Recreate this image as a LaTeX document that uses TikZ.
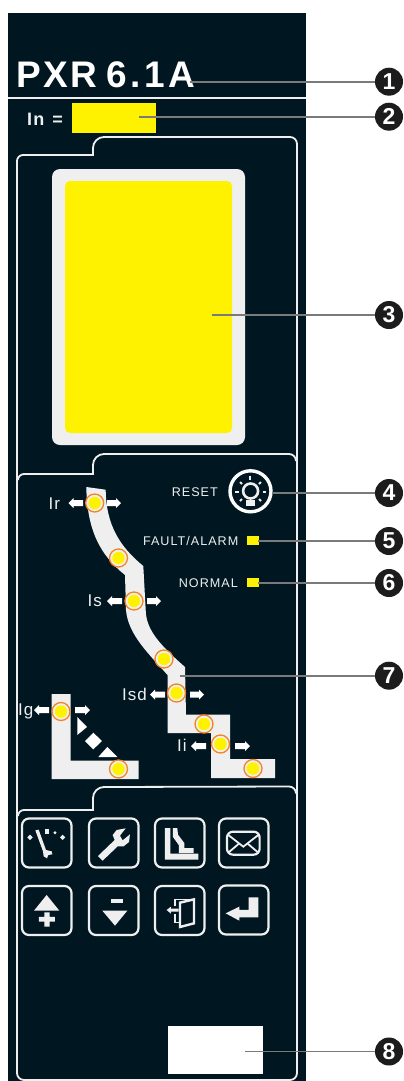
\documentclass[tikz,border=0pt]{standalone}
\usepackage{fontspec}
\setmainfont{Liberation Sans}
\newfontfamily\lblfont[LetterSpace=8]{Liberation Sans}
\newfontfamily\bigfont[LetterSpace=6]{Liberation Sans}
\newfontfamily\ttlfont[LetterSpace=6]{Liberation Sans}
\newfontfamily\ttlfontb[LetterSpace=9.5]{Liberation Sans}
\definecolor{panel}{HTML}{001722}
\definecolor{soft}{HTML}{EFEFEF}
\definecolor{ylw}{HTML}{FFF200}
\definecolor{orng}{HTML}{F58220}
\definecolor{leader}{HTML}{7A7A7A}
\definecolor{dark}{HTML}{1C1C1C}
\tikzset{
  frameline/.style={draw=soft,line width=1.8pt},
  iconbox/.style={draw=soft,line width=2.2pt,rounded corners=7pt},
  iconfill/.style={fill=soft,draw=none},
  iconline/.style={draw=soft,line width=1.8pt},
  lbl/.style={inner sep=0pt,text=soft,anchor=base west,font=\bigfont\fontsize{17}{18}\selectfont},
  sml/.style={inner sep=0pt,text=soft,anchor=base east,font=\lblfont\fontsize{12.6}{14}\selectfont},
  callout/.style={circle,fill=dark,text=white,inner sep=0pt,minimum size=28pt,font=\fontsize{23}{24}\selectfont\bfseries},
  leaderline/.style={draw=leader,line width=1.6pt},
  outerdot/.style={circle,draw=orng,line width=1.3pt,fill=soft,minimum size=18pt,inner sep=0pt},
  innerdot/.style={circle,fill=ylw,minimum size=12.5pt,inner sep=0pt},
}
\newcommand{\arrR}[3]{\fill[white] (#1,#3-3) -- (#2-5,#3-3) -- (#2-5,#3-5) -- (#2,#3) -- (#2-5,#3+5) -- (#2-5,#3+3) -- (#1,#3+3) -- cycle;}
\newcommand{\arrL}[3]{\fill[white] (#2,#3-3) -- (#1+5,#3-3) -- (#1+5,#3-5) -- (#1,#3) -- (#1+5,#3+5) -- (#1+5,#3+3) -- (#2,#3+3) -- cycle;}
\begin{document}
\begin{tikzpicture}[x=1pt,y=-1pt]
\useasboundingbox (0,0) rectangle (404,1081);
\fill[white] (0,0) rectangle (404,1081);
\fill[panel] (8,13) rectangle (306,1081);
% header
\node[inner sep=0pt,anchor=base west,text=white,font=\ttlfont\fontsize{37}{40}\selectfont\bfseries] (title) at (16.5,87.3) {PXR\hspace{9pt}{\ttlfontb\fontsize{37}{40}\selectfont\bfseries 6.1A}};
\draw[draw=soft,line width=2pt] (8,97.5) -- (306,97.5);
\node[lbl,font=\bigfont\fontsize{18}{18}\selectfont\bfseries] (inlabel) at (27,125) {In\hspace{2pt} =};
\fill[ylw] (72,103) rectangle (156,133);
% frames
\draw[frameline] (17,161) arc[start angle=180,end angle=270,radius=6] -- (93,155) -- (93,148) arc[start angle=180,end angle=270,radius=11] -- (290,137) arc[start angle=-90,end angle=0,radius=7] -- (297,1073) arc[start angle=0,end angle=90,radius=7] -- (24,1080) arc[start angle=90,end angle=180,radius=7] -- cycle;
\draw[frameline] (18,480) arc[start angle=180,end angle=270,radius=6] -- (93,474) -- (93,465) arc[start angle=180,end angle=270,radius=11] -- (289,454) arc[start angle=-90,end angle=0,radius=7];
\draw[frameline] (18,816) arc[start angle=180,end angle=270,radius=6] -- (93,810) -- (93,798) arc[start angle=180,end angle=270,radius=11] -- (289,786.5) arc[start angle=-90,end angle=0,radius=7];
% display
\fill[soft,rounded corners=8pt] (52,169) rectangle (245,445);
\fill[ylw,rounded corners=5pt] (65,181) rectangle (232,433);
% reset
\draw[draw=white,line width=3.4pt] (250.5,491.3) circle[radius=20.5];
\draw[draw=soft,line width=2.6pt] (250.6,491) circle[radius=7.5];
\fill[soft] (245.8,499.5) rectangle (254.6,505.7);
\foreach \a/\b/\c/\d in {250.3/475.7/250.3/479.5,235/491.5/238.7/491.5,262.5/491.5/266.2/491.5,240/482/242/484,261/482/259/484,240/501/242/499,261/501/259/499}{
  \draw[draw=soft,line width=2pt] (\a,\b) -- (\c,\d);
}
\node[sml] (reset) at (218,496) {RESET};
\node[sml] (fault) at (238.5,545.3) {FAULT/ALARM};
\node[sml] (normal) at (238,587.3) {NORMAL};
\fill[ylw] (247,536) rectangle (259,545);
\fill[ylw] (247,578) rectangle (259,587);
% bands
\fill[soft] (86.3,487) .. controls (87,530) and (100,555) .. (125,575) -- (126,610) .. controls (128,635) and (150,655) .. (167.5,675) -- (167.5,733) -- (211,733) -- (211,778) -- (275,778) -- (275,759) -- (230,759) -- (230,714.7) -- (186,714.7) -- (185,667) .. controls (160,645) and (146,630) .. (145.7,610) -- (143.3,566) .. controls (120,547) and (106,525) .. (105.7,489.7) -- cycle;
\fill[soft] (51.5,694) -- (70.5,694) -- (70.5,760.5) -- (138.5,760.5) -- (138.5,779) -- (51.5,779) -- cycle;
\fill[white] (77.3,717) -- (87,727) -- (77.3,735) -- cycle;
\fill[white] (85,741) -- (93.3,732.7) -- (102,741) -- (93.3,749.3) -- cycle;
\fill[white] (98.3,757) -- (117.3,757) -- (107.3,747) -- cycle;
% markers
\foreach \n/\mx/\my in {a/94.7/503,b/118.5/558,c/134/601,d/164/659,e/176.5/693,f/204/724,g/220.5/744,h/253/768.5,k/61/711.5,m/118.5/769}{
  \node[outerdot] (out\n) at (\mx,\my) {};
  \node[innerdot] (in\n) at (\mx,\my) {};
}
% labels
\node[lbl] (ir) at (48.5,509) {Ir};
\node[lbl] (is) at (87.5,606.7) {Is};
\node[lbl] (isd) at (122,700.7) {Isd};
\node[lbl] (ii) at (177,751.7) {Ii};
\node[lbl] (ig) at (18,715) {Ig};
% small arrows
\arrL{68.5}{83}{503}\arrR{107}{121}{503}
\arrL{107}{122}{601}\arrR{147}{161}{601}
\arrL{150}{165}{694.5}\arrR{190}{204}{694.5}
\arrL{191}{206}{746}\arrR{235}{250}{746}
\arrL{34}{49}{710}\arrR{75}{90}{710}
% icon boxes
\foreach \bx/\by in {22/818.5,89/818.5,155/818.5,219/818.5,22/886,89/886,155/886,219/885.5}{
  \draw[iconbox] (\bx,\by) rectangle ++(49.5,49);
}
% icon glyphs, typed in 3x units
\begin{scope}[shift={(10,780)},x=0.3333pt,y=-0.3333pt]
  % gauge
  \fill[soft] (76,151) -- (86,149) -- (108,210) -- (125,214) -- (127,223) -- (115,225) -- (111,235) -- (101,229) -- (99,214) -- cycle;
  \fill[soft] (60,164) -- (68,172) -- (60,180) -- (52,172) -- cycle;
  \fill[soft] (158,164) -- (166,172) -- (158,180) -- (150,172) -- cycle;
  \fill[soft] (105,148) rectangle (116,163);
  \fill[soft] (135,158) circle[radius=5];
  % wrench
  \path[iconfill] (264,228) -- (314,180) -- (308,165) -- (320,150) -- (347,145) -- (330,167) -- (338,181) -- (360,163) -- (357,186) -- (341,199) -- (323,199) -- (278,242) -- cycle;
  % curve
  \path[iconfill] (465,144) -- (481,144) -- (481,221) -- (565,221) -- (565,239) -- (465,239) -- cycle;
  \path[iconfill] (489,144) -- (502,144) -- (504,164) -- (523,189) -- (523,204) -- (551,204) -- (551,219) -- (507,219) -- (507,196) -- (489,171) -- cycle;
  % envelope
  \draw[iconline,line width=2.2pt,rounded corners=6pt] (651,155) rectangle (749,224);
  \draw[iconline,line join=miter] (655,165) -- (700,200) -- (745,165);
  \draw[iconline] (655,218) -- (688,190);
  \draw[iconline] (745,218) -- (712,190);
  % up plus
  \path[iconfill] (110,345) -- (148,392) -- (72,392) -- cycle;
  \path[iconfill] (87,411) -- (103,411) -- (103,397) -- (119,397) -- (119,411) -- (135,411) -- (135,425) -- (119,425) -- (119,440) -- (103,440) -- (103,425) -- (87,425) -- cycle;
  % down minus
  \path[iconfill] (303,358) rectangle (338,368);
  \path[iconfill] (277,392) -- (352,392) -- (315,437) -- cycle;
  % door
  \draw[iconline,line width=1.4pt] (495,378) -- (495,358) -- (554,358);
  \draw[iconline,line width=1.4pt] (495,402) -- (495,428) -- (510,428);
  \draw[iconline,line width=2.4pt,line join=miter] (510,368) -- (552,358) -- (552,430) -- (510,441) -- cycle;
  \path[iconfill] (470,390) -- (483,380) -- (483,386) -- (506,386) -- (506,395) -- (483,395) -- (483,401) -- cycle;
  % enter
  \path[iconfill] (716,352) -- (745,352) -- (745,412) -- (688,412) -- (688,422) -- (647,400) -- (688,380) -- (688,390) -- (716,390) -- cycle;
\end{scope}
% white plate
\fill[white] (168,1026) rectangle (263,1074);
% callouts
\foreach \k/\cy/\sx/\sy in {1/81.7/190/81.7,2/116.7/139/116.7,3/315/212/315,4/493/272/493,5/541/258/541,6/583/258/583,7/675.7/180/675.7,8/1051.5/245/1051.5}{
  \node[callout] (call\k) at (389,\cy) {\k};
  \coordinate (from\k) at (\sx,\sy);
  \draw[leaderline] (from\k) -- (call\k);
}
\end{tikzpicture}
\end{document}
